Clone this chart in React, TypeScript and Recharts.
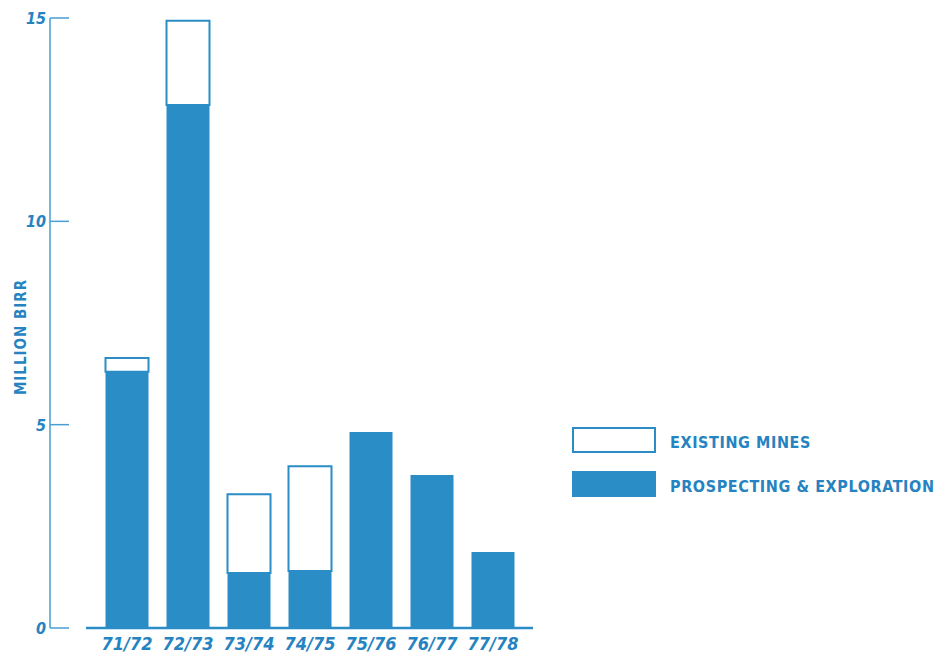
import React from 'react';
import { BarChart, Bar, XAxis, YAxis, ReferenceLine } from 'recharts';

const years = ['71/72', '72/73', '73/74', '74/75', '75/76', '76/77', '77/78'];
const prospecting = [6.3, 12.86, 1.35, 1.4, 4.82, 3.76, 1.87];
const existingMines = [0.34, 2.07, 1.94, 2.58, 0, 0, 0];
const yTicks = [0, 5, 10, 15];

const BLUE = '#2a8dc5';
const TEXT = '#2683c1';
const AXIS = '#4a9ed1';
const FONT = '"DejaVu Sans Condensed", "DejaVu Sans", sans-serif';

const series = [
  { key: 'existing', label: 'EXISTING MINES', fill: '#ffffff' },
  { key: 'prospecting', label: 'PROSPECTING & EXPLORATION', fill: BLUE }
];

const data = years.map((year, i) => ({
  year,
  prospecting: prospecting[i],
  existing: existingMines[i]
}));

const YTick = (props: any) => {
  const { x, y, payload } = props;
  return (
    <g>
      <line x1={x} x2={x + 19} y1={y} y2={y} stroke={AXIS} strokeWidth={1.5} />
      <text
        x={x - 4}
        y={y}
        dy={6}
        textAnchor="end"
        fill={TEXT}
        fontSize={16}
        fontWeight="bold"
        fontStyle="italic"
        fontFamily={FONT}
      >
        {payload.value}
      </text>
    </g>
  );
};

const YLabel = (props: any) => {
  const { viewBox } = props;
  const cx = viewBox.x + 21;
  const cy = viewBox.y + viewBox.height / 2 + 14;
  return (
    <text
      x={cx}
      y={cy}
      transform={`rotate(-90, ${cx}, ${cy})`}
      textAnchor="middle"
      dominantBaseline="central"
      fill={TEXT}
      fontSize={15}
      fontWeight="bold"
      letterSpacing={1}
      fontFamily={FONT}
    >
      MILLION BIRR
    </text>
  );
};

const BaseLine = (props: any) => {
  const { x1, x2, y1 } = props;
  return <line x1={x1 + 36} x2={x2} y1={y1} y2={y1} stroke={BLUE} strokeWidth={2.5} />;
};

const App: React.FC = () => {
  return (
    <div style={{ position: 'absolute', left: 0, top: 0, width: 941, height: 663, background: '#fff' }}>
      <BarChart
        width={941}
        height={663}
        data={data}
        margin={{ top: 18, right: 408, bottom: 5, left: 0 }}
        barSize={43}
      >
        <XAxis
          dataKey="year"
          height={30}
          padding={{ left: 46.5, right: 9.5 }}
          axisLine={false}
          tickLine={false}
          tickSize={0}
          tickMargin={9}
          interval={0}
          tick={{ fill: TEXT, fontSize: 18, fontWeight: 'bold', fontStyle: 'italic', fontFamily: FONT }}
        />
        <YAxis
          width={50}
          domain={[0, 15]}
          ticks={yTicks}
          allowDataOverflow
          axisLine={{ stroke: AXIS, strokeWidth: 1.5 }}
          tickLine={false}
          tickSize={0}
          tickMargin={0}
          tick={<YTick />}
          label={<YLabel />}
        />
        <ReferenceLine y={0} stroke={BLUE} shape={<BaseLine />} />
        <Bar dataKey="prospecting" stackId="a" fill={BLUE} isAnimationActive={false} />
        <Bar
          dataKey="existing"
          stackId="a"
          fill="#ffffff"
          stroke={BLUE}
          strokeWidth={2}
          isAnimationActive={false}
        />
      </BarChart>
      <div style={{ position: 'absolute', left: 572, top: 427, fontFamily: FONT }}>
        {series.map((s, i) => (
          <div
            key={s.key}
            style={{ display: 'flex', alignItems: 'center', height: 26, marginBottom: i === 0 ? 18 : 0 }}
          >
            <div
              style={{
                width: 84,
                height: 26,
                boxSizing: 'border-box',
                background: s.fill,
                border: `2px solid ${BLUE}`
              }}
            />
            <span
              style={{
                marginLeft: 14,
                marginTop: 4,
                color: TEXT,
                fontSize: 16,
                fontWeight: 'bold',
                letterSpacing: 0.6
              }}
            >
              {s.label}
            </span>
          </div>
        ))}
      </div>
    </div>
  );
};

export default App;
